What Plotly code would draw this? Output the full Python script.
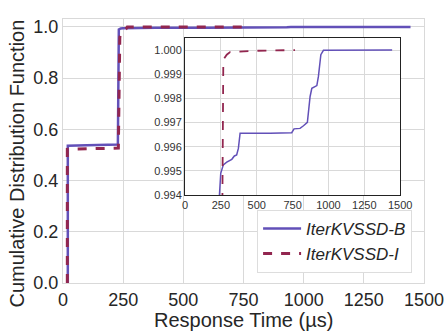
import plotly.graph_objects as go

# Response time (us) and cumulative fraction for each series
b_x = [20, 20, 100, 228, 232, 240, 249, 267, 291, 326, 344, 360, 372, 384, 593, 744, 760,
       802, 826, 853, 872, 884, 919, 930, 947, 965, 1444]
b_y = [0.0, 0.536, 0.538, 0.541, 0.99, 0.994, 0.9949, 0.99525, 0.99536, 0.99548, 0.99562,
       0.99566, 0.99593, 0.99656, 0.99656, 0.99658, 0.99674, 0.99676, 0.99687, 0.99701,
       0.99808, 0.99842, 0.99853, 0.99891, 0.99981, 0.99999, 1.0]
i_x = [18, 18, 100, 230, 236, 244, 263, 267, 291, 314, 477, 767]
i_y = [0.0, 0.522, 0.524, 0.527, 0.96, 0.979, 0.994, 0.9996, 0.99981, 0.99992, 0.99997, 1.0]

names = ["IterKVSSD-B", "IterKVSSD-I"]
colors = ["#6250b8", "#92264f"]

main_xticks = [0, 250, 500, 750, 1000, 1250, 1500]
main_yticks = [0.0, 0.2, 0.4, 0.6, 0.8, 1.0]
inset_xticks = [0, 250, 500, 750, 1000, 1250, 1500]
inset_yticks = [0.994, 0.995, 0.996, 0.997, 0.998, 0.999, 1.000]

fig = go.Figure()
fig.add_trace(go.Scatter(x=b_x, y=b_y, mode="lines", name="<i>" + names[0] + "</i>",
                         line=dict(color=colors[0], width=2.5), xaxis="x", yaxis="y"))
fig.add_trace(go.Scatter(x=i_x, y=i_y, mode="lines", name="<i>" + names[1] + "</i>",
                         line=dict(color=colors[1], width=3, dash="dash"), xaxis="x", yaxis="y"))
fig.add_trace(go.Scatter(x=b_x, y=b_y, mode="lines", showlegend=False,
                         line=dict(color=colors[0], width=1.5), xaxis="x2", yaxis="y2"))
fig.add_trace(go.Scatter(x=i_x, y=i_y, mode="lines", showlegend=False,
                         line=dict(color=colors[1], width=1.8, dash="dash"), xaxis="x2", yaxis="y2"))

font_main = "Liberation Sans, Arial, sans-serif"
grid = "#d9d9d9"

fig.update_layout(
    width=446, height=333,
    margin=dict(l=63, r=22, t=19, b=50, autoexpand=False),
    paper_bgcolor="white", plot_bgcolor="white",
    font=dict(family=font_main, color="#262626"),
    xaxis=dict(domain=[0, 1], range=[0, 1500], tickvals=main_xticks, automargin=False,
               tickfont=dict(size=18), showgrid=True, gridcolor=grid, gridwidth=1,
               zeroline=False, showline=True, mirror=True, linecolor=grid, ticks=""),
    yaxis=dict(domain=[0, 1], range=[0, 1.031], tickvals=main_yticks, tickformat=".1f",
               automargin=False,
               tickfont=dict(size=18), showgrid=True, gridcolor=grid, gridwidth=1,
               zeroline=False, showline=True, mirror=True, linecolor=grid, ticks=""),
    xaxis2=dict(domain=[0.338, 0.934], anchor="y2", range=[0, 1500], tickvals=inset_xticks,
                automargin=False,
                tickfont=dict(size=11, color="#333333"), showgrid=True, gridcolor=grid,
                zeroline=False, showline=True, mirror=True, linecolor="#222222", linewidth=1,
                ticks=""),
    yaxis2=dict(domain=[0.333, 0.928], anchor="x2", range=[0.994, 1.0005], tickvals=inset_yticks,
                automargin=False,
                tickformat=".3f", tickfont=dict(size=11, color="#333333"), showgrid=True,
                gridcolor=grid, zeroline=False, showline=True, mirror=True,
                linecolor="#222222", linewidth=1, ticks=""),
    legend=dict(x=0.967, y=0.038, xanchor="right", yanchor="bottom",
                bgcolor="white", bordercolor="#dddddd", borderwidth=1,
                font=dict(size=17, family=font_main, color="#262626"),
                itemwidth=38),
    showlegend=True,
    annotations=[
        dict(text="Response Time (µs)", xref="paper", yref="paper", x=0.501, y=-0.140,
             xanchor="center", yanchor="middle", showarrow=False,
             font=dict(size=20, color="#262626")),
        dict(text="Cumulative Distribution Function", xref="paper", yref="paper",
             x=-0.127, y=0.453, xanchor="center", yanchor="middle", textangle=-90,
             showarrow=False, font=dict(size=20, color="#262626")),
    ],
)

fig.write_html("out.html", config={"displayModeBar": False},
               post_script="document.body.style.margin='0';document.body.style.padding='0';")
